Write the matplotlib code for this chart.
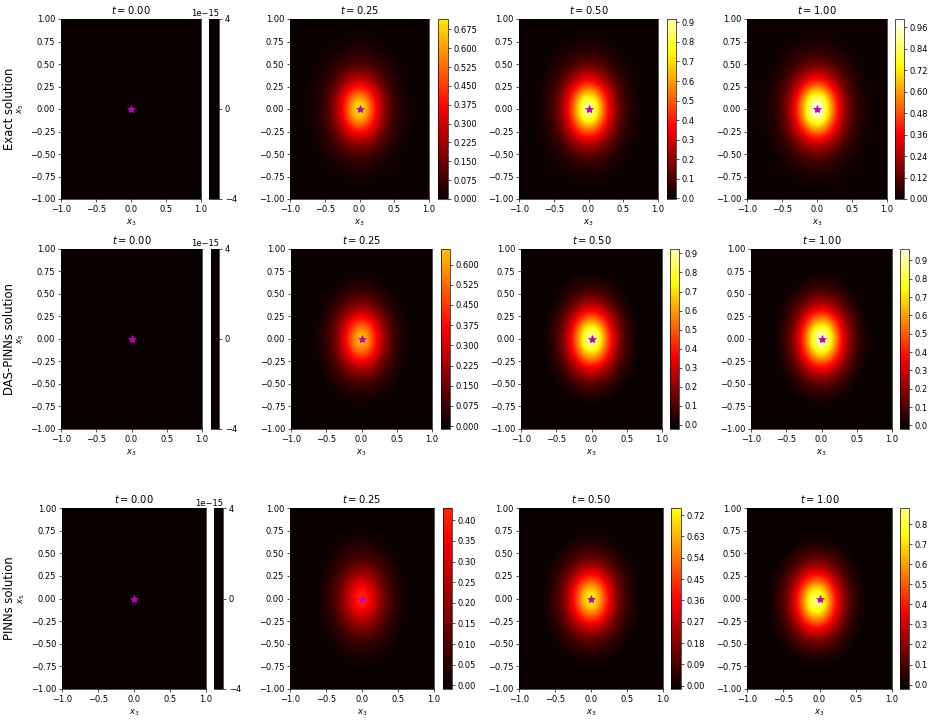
import numpy as np
import matplotlib.pyplot as plt

row_names = ['Exact solution', 'DAS-PINNs solution', 'PINNs solution']
times = [0.00, 0.25, 0.50, 1.00]

# top and bottom of every colorbar
peak = [[0.0, 0.716, 0.917, 1.006],
        [0.0, 0.658, 0.923, 0.962],
        [0.0, 0.430, 0.750, 0.880]]
low = [[0.0, 0.0, -0.003, 0.0],
       [0.0, -0.011, -0.021, -0.020],
       [0.0, -0.009, -0.014, -0.022]]
tick_step = [[None, 0.075, 0.1, 0.12],
             [None, 0.075, 0.1, 0.1],
             [None, 0.05, 0.09, 0.1]]

# half-width of the bump along x3 / x5 and where its centre sits
width_x3 = [[0.30, 0.30, 0.30, 0.30],
            [0.30, 0.30, 0.30, 0.30],
            [0.30, 0.30, 0.30, 0.30]]
width_x5 = [[0.33, 0.33, 0.33, 0.33],
            [0.33, 0.33, 0.33, 0.33],
            [0.33, 0.35, 0.33, 0.33]]
cen_x3 = [[0.0, 0.0, 0.0, 0.0],
          [0.0, 0.0, 0.0, 0.0],
          [0.0, 0.0, 0.0, -0.04]]
cen_x5 = [[0.0, 0.0, 0.0, 0.0],
          [0.0, 0.0, 0.0, 0.0],
          [0.0, 0.0, 0.0, -0.03]]
shape_power = 1.6

source = (0.0, 0.0)
zero_ticks = [-4e-15, 0.0, 4e-15]

# layout in pixels (figure is 934 x 721)
W, H = 934, 721
rows_y = [(19, 199), (249, 429), (508, 689)]
cols_x = [[(61, 201, 209, 219), (290, 429, 438, 448), (519, 658, 667, 676), (747, 887, 895, 904)],
          [(61, 202, 211, 219), (291, 432, 441, 450), (521, 662, 670, 679), (751, 892, 900, 909)],
          [(62, 206, 214, 223), (290, 434, 443, 452), (519, 663, 671, 681), (747, 892, 900, 909)]]

fig = plt.figure(figsize=(W / 60, H / 60), dpi=60)

g = np.linspace(-1, 1, 201)
X, Y = np.meshgrid(g, g)

for i in range(3):
    top, bot = rows_y[i]
    for j in range(4):
        x0, x1, c0, c1 = cols_x[i][j]
        ax = fig.add_axes([x0 / W, 1 - bot / H, (x1 - x0) / W, (bot - top) / H])
        cax = fig.add_axes([c0 / W, 1 - bot / H, (c1 - c0) / W, (bot - top) / H])

        if peak[i][j] == 0.0:
            Z = np.zeros_like(X)
            levels = np.linspace(zero_ticks[0], zero_ticks[-1], 100)
            ticks = zero_ticks
        else:
            r = np.sqrt(((X - cen_x3[i][j]) / width_x3[i][j]) ** 2
                        + ((Y - cen_x5[i][j]) / width_x5[i][j]) ** 2)
            bump = np.exp(-r ** shape_power)
            bump = (bump - bump.min()) / (bump.max() - bump.min())
            Z = low[i][j] + (peak[i][j] - low[i][j]) * bump
            levels = np.linspace(low[i][j], peak[i][j], 100)
            ticks = np.round(np.arange(0, peak[i][j] + 1e-9, tick_step[i][j]), 4)

        cs = ax.contourf(X, Y, Z, levels=levels, cmap='hot', vmin=0, vmax=1)
        ax.plot(source[0], source[1], '*', color='m', ms=10)
        ax.set_xlim(-1, 1)
        ax.set_ylim(-1, 1)
        ax.set_title(r'$t = %.2f$' % times[j])
        ax.set_xlabel(r'$x_3$')
        if j == 0:
            ax.set_ylabel(r'$x_5$')
            ax.text((10 - x0) / (x1 - x0), 0.5, row_names[i], rotation=90,
                    ha='center', va='center', fontsize=14, transform=ax.transAxes)
        fig.colorbar(cs, cax=cax, ticks=ticks)

plt.savefig('out.png', dpi=60)
